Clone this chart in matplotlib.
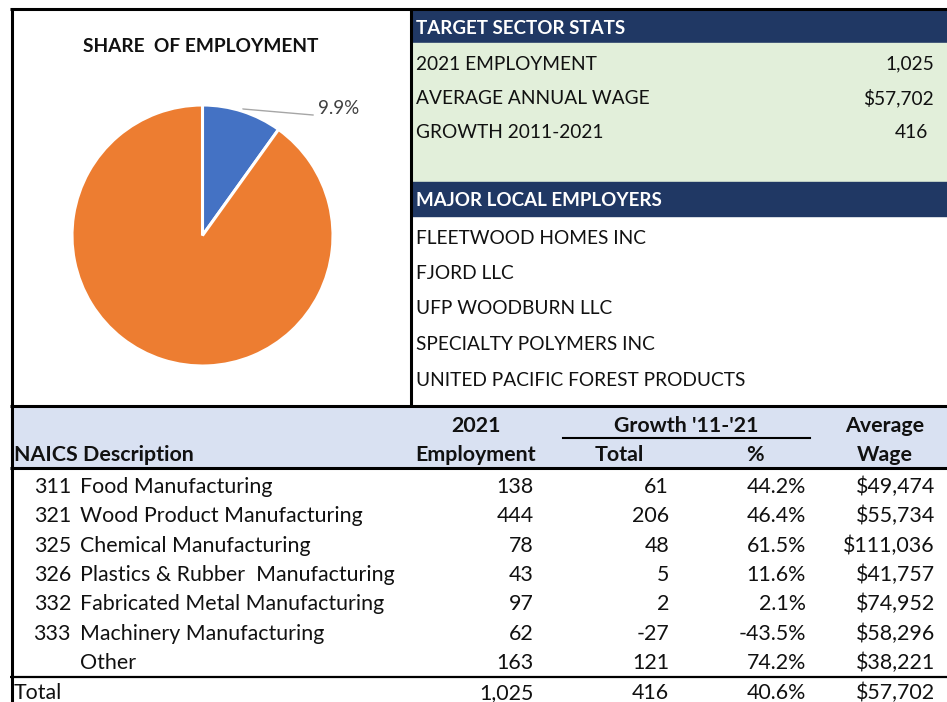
import matplotlib

matplotlib.use("Agg")
import matplotlib.pyplot as plt
from matplotlib.patches import Rectangle

plt.rcParams["font.family"] = ["Lato", "DejaVu Sans"]

# pie
pie_labels = ["Target sector", "All other"]
pie_shares = [9.9, 90.1]
pie_colors = ["#4472C4", "#ED7D31"]

# side panel
stat_labels = ["2021 EMPLOYMENT", "AVERAGE ANNUAL WAGE", "GROWTH 2011-2021"]
stat_values = ["1,025", "$57,702", "416"]
employers = ["FLEETWOOD HOMES INC", "FJORD LLC", "UFP WOODBURN LLC",
             "SPECIALTY POLYMERS INC", "UNITED PACIFIC FOREST PRODUCTS"]

# table
codes = ["311", "321", "325", "326", "332", "333", ""]
descriptions = ["Food Manufacturing", "Wood Product Manufacturing",
                "Chemical Manufacturing", "Plastics & Rubber  Manufacturing",
                "Fabricated Metal Manufacturing", "Machinery Manufacturing",
                "Other"]
employment = [138, 444, 78, 43, 97, 62, 163]
growth_total = [61, 206, 48, 5, 2, -27, 121]
growth_pct = [44.2, 46.4, 61.5, 11.6, 2.1, -43.5, 74.2]
avg_wage = [49474, 55734, 111036, 41757, 74952, 58296, 38221]
total_row = ["Total", 1025, 416, 40.6, 57702]

NAVY = "#203864"
GREEN = "#E2EFDA"
LAV = "#D9E1F2"
TXT = "#111111"
W, H = 947, 702
FS_PANEL = 13.8
FS_TAB = 15.4

fig = plt.figure(figsize=(W / 100, H / 100), dpi=100)
fig.patch.set_facecolor("white")
ax = fig.add_axes([0, 0, 1, 1])
ax.set_xlim(0, W)
ax.set_ylim(H, 0)
ax.axis("off")

# right panel backgrounds
ax.add_patch(Rectangle((411, 10), W - 411, 33, color=NAVY, zorder=1))
ax.add_patch(Rectangle((411, 43), W - 411, 139, color=GREEN, zorder=1))
ax.add_patch(Rectangle((411, 182), W - 411, 34, color=NAVY, zorder=1))
ax.add_patch(Rectangle((11, 407), W - 11, 61, color=LAV, zorder=1))

ax.text(416, 28, "TARGET SECTOR STATS", color="white", fontsize=13.5,
        fontweight="bold", va="center")
ax.text(416, 201, "MAJOR LOCAL EMPLOYERS", color="white", fontsize=13.5,
        fontweight="bold", va="center")
for i, (lab, val) in enumerate(zip(stat_labels, stat_values)):
    y = 64 + i * 34.5
    ax.text(416, y, lab, fontsize=FS_PANEL, va="center", color=TXT)
    ax.text(934 if i < 2 else 928, y, val, fontsize=FS_PANEL, va="center",
            ha="right", color=TXT)
for i, name in enumerate(employers):
    ax.text(416, 238 + i * 35.5, name, fontsize=FS_PANEL, va="center", color=TXT)

# table header
hk = dict(fontsize=FS_TAB, fontweight="bold", va="center", color=TXT)
ax.text(476, 426, "2021", ha="center", **hk)
ax.text(476, 455, "Employment", ha="center", **hk)
ax.text(686, 426, "Growth '11-'21", ha="center", **hk)
ax.plot([563, 810], [438, 438], color="black", lw=1.5, zorder=3)
ax.text(619, 455, "Total", ha="center", **hk)
ax.text(755, 455, "%", ha="center", **hk)
ax.text(885, 426, "Average", ha="center", **hk)
ax.text(885, 455, "Wage", ha="center", **hk)
ax.text(14, 455, "NAICS Description", **hk)

bk = dict(fontsize=FS_TAB, va="center", color=TXT)
cols = [534, 669, 806, 935]
for i in range(len(codes)):
    y = 487 + i * 29.3
    ax.text(71, y, codes[i], ha="right", **bk)
    ax.text(80, y, descriptions[i], **bk)
    vals = [f"{employment[i]:,}", f"{growth_total[i]:,}",
            f"{growth_pct[i]:.1f}%", f"${avg_wage[i]:,}"]
    for x, v in zip(cols, vals):
        ax.text(x, y, v, ha="right", **bk)

y = 693
ax.text(14, y, total_row[0], **bk)
tvals = [f"{total_row[1]:,}", f"{total_row[2]:,}", f"{total_row[3]:.1f}%",
         f"${total_row[4]:,}"]
for x, v in zip(cols, tvals):
    ax.text(x, y, v, ha="right", **bk)

# frame lines
lk = dict(color="black", zorder=4, solid_capstyle="butt")
ax.plot([10, W], [9, 9], lw=2.2, **lk)
ax.plot([11.5, 11.5], [8, H], lw=2.2, **lk)
ax.plot([410.5, 410.5], [8, 407], lw=2.2, **lk)
ax.plot([10, W], [406, 406], lw=2.2, **lk)
ax.plot([10, W], [468, 468], lw=2.2, **lk)
ax.plot([10, W], [676.5, 676.5], lw=1.6, **lk)

# pie chart
ax.text(201, 46, "SHARE  OF EMPLOYMENT", fontsize=13.8, fontweight="bold",
        ha="center", va="center", color=TXT)
r = 130.5
cx, cy = 202.5, 235.5
pax = fig.add_axes([(cx - r) / W, 1 - (cy + r) / H, 2 * r / W, 2 * r / H])
pax.pie(pie_shares, colors=pie_colors, startangle=90, counterclock=False,
        wedgeprops=dict(edgecolor="white", linewidth=2.2))
pax.set_xlim(-1, 1)
pax.set_ylim(-1, 1)
pax.set_aspect("auto")
ax.plot([243, 313], [109, 115], color="#A6A6A6", lw=1, zorder=3)
ax.text(318, 108, f"{pie_shares[0]:.1f}%", fontsize=13.5, color="#404040",
        va="center")

fig.savefig("out.png", dpi=100, facecolor="white")
